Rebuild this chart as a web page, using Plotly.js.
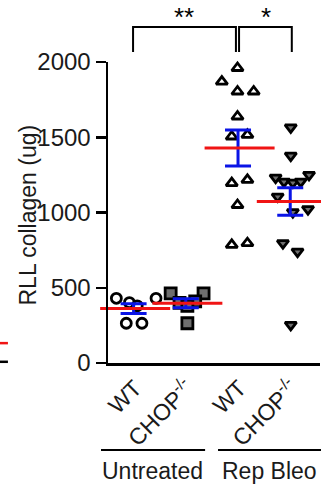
<!DOCTYPE html>
<html>
<head>
<meta charset="utf-8">
<script src="https://cdn.plot.ly/plotly-3.0.1.min.js"></script>
<style>html,body{margin:0;padding:0;background:#fff;}#chart{width:321px;height:493px;}</style>
</head>
<body>
<div id="chart"></div>
<script>
// ---- data ----
const categories = ['WT', 'CHOP<sup>-/-</sup>', 'WT', 'CHOP<sup>-/-</sup>'];
const groupLabels = ['Untreated', 'Rep Bleo'];
const yTitle = 'RLL collagen (ug)';
const wtUntreated   = [430, 401, 430, 264, 264, 380];
const chopUntreated = [463, 463, 264, 400, 410, 380];
const wtBleo        = [1960, 1870, 1804, 1804, 1638, 1505, 1516, 1195, 1217, 1050, 785, 796];
const chopBleo      = [1565, 1378, 1232, 1205, 1199, 1205, 1250, 1106, 1002, 1022, 796, 740, 253];
// horizontal scatter (jitter) of each point, in fractions of a category step
const wtUntreatedJit   = [-0.36, -0.11, 0.40, -0.17, 0.13, 0.04];
const chopUntreatedJit = [-0.32, 0.31, 0.0, -0.15, 0.15, 0.0];
const wtBleoJit        = [-0.04, -0.34, -0.04, 0.27, -0.04, -0.15, 0.15, -0.15, 0.15, -0.04, -0.15, 0.15];
const chopBleoJit      = [-0.02, -0.02, -0.31, -0.15, 0.02, 0.17, 0.33, -0.27, 0.02, 0.31, -0.17, 0.11, -0.02];
const sigLabels = ['**', '*'];

const groups = [wtUntreated, chopUntreated, wtBleo, chopBleo];
const jits = [wtUntreatedJit, chopUntreatedJit, wtBleoJit, chopBleoJit];
const markerSym = ['circle-open', 'square', 'triangle-up-open', 'triangle-down'];
const markerFill = ['#000', '#6e6e6e', '#000', '#6e6e6e'];

function mean(a){ return a.reduce((s,v)=>s+v,0)/a.length; }
function sem(a){ const m=mean(a); const v=a.reduce((s,x)=>s+(x-m)*(x-m),0)/(a.length-1); return Math.sqrt(v)/Math.sqrt(a.length); }

const traces = [];
groups.forEach((g, i) => {
  const open = markerSym[i].indexOf('open') >= 0;
  traces.push({
    type: 'scatter', mode: 'markers',
    x: g.map((v, k) => i + jits[i][k]), y: g,
    marker: {
      symbol: markerSym[i],
      size: i === 1 ? 11 : 10,
      color: open ? '#000' : markerFill[i],
      line: {color: '#000', width: 2.8}
    },
    showlegend: false, hoverinfo: 'skip', cliponaxis: false
  });
});
// SEM error bars (blue)
traces.push({
  type: 'scatter', mode: 'markers',
  x: [0, 1, 2, 3].map(i => i - 0.03), y: groups.map(mean),
  marker: {size: 1, color: 'rgba(0,0,0,0)'},
  error_y: {type: 'data', array: groups.map(sem), visible: true, color: '#0a14e6', thickness: 3, width: 13},
  showlegend: false, hoverinfo: 'skip'
});
// mean lines (red)
traces.push({
  type: 'scatter', mode: 'markers',
  x: [0, 1, 2, 3], y: groups.map(mean),
  marker: {symbol: 'line-ew', size: 50, line: {color: '#f01414', width: 3}},
  showlegend: false, hoverinfo: 'skip', cliponaxis: false
});

const font = {family: 'Arial, "Liberation Sans", sans-serif', color: '#1a1a1a'};
const shapes = [
  // significance brackets
  {type: 'path', xref: 'x', yref: 'paper', path: 'M -0.04,1.033 L -0.04,1.116 L 1.93,1.116 L 1.93,1.033', line: {color: '#000', width: 2}},
  {type: 'path', xref: 'x', yref: 'paper', path: 'M 1.99,1.033 L 1.99,1.116 L 3.0,1.116 L 3.0,1.033', line: {color: '#000', width: 2}},
  // group underlines
  {type: 'line', xref: 'paper', yref: 'paper', x0: -0.033, x1: 0.458, y0: -0.289, y1: -0.289, line: {color: '#000', width: 2}},
  {type: 'line', xref: 'paper', yref: 'paper', x0: 0.519, x1: 1.01, y0: -0.289, y1: -0.289, line: {color: '#000', width: 2}},
  // fragment of neighbouring panel at left edge
  {type: 'line', xref: 'paper', yref: 'paper', x0: -0.515, x1: -0.472, y0: 0.066, y1: 0.066, line: {color: '#f01414', width: 2.5}},
  {type: 'line', xref: 'paper', yref: 'paper', x0: -0.515, x1: -0.472, y0: 0.004, y1: 0.004, line: {color: '#000', width: 2.5}}
];
const annotations = [
  {xref: 'x', yref: 'paper', x: 0.93, y: 1.15, xanchor: 'center', yanchor: 'middle', text: sigLabels[0], showarrow: false, font: Object.assign({}, font, {size: 26, color: '#000'})},
  {xref: 'x', yref: 'paper', x: 2.5, y: 1.15, xanchor: 'center', yanchor: 'middle', text: sigLabels[1], showarrow: false, font: Object.assign({}, font, {size: 26, color: '#000'})},
  {xref: 'paper', yref: 'paper', x: 0.208, y: -0.36, xanchor: 'center', yanchor: 'middle', text: groupLabels[0], showarrow: false, font: Object.assign({}, font, {size: 23})},
  {xref: 'paper', yref: 'paper', x: 0.764, y: -0.36, xanchor: 'center', yanchor: 'middle', text: groupLabels[1], showarrow: false, font: Object.assign({}, font, {size: 23})},
  {xref: 'paper', yref: 'paper', x: -0.382, y: 0.49, xanchor: 'center', yanchor: 'middle', textangle: -90, text: yTitle, showarrow: false, font: Object.assign({}, font, {size: 23})}
];

const layout = {
  width: 321, height: 493,
  margin: {l: 108, r: 1, t: 62, b: 130},
  paper_bgcolor: '#fff', plot_bgcolor: '#fff',
  font: font,
  showlegend: false,
  xaxis: {
    range: [-0.52, 3.54], tickmode: 'array', tickvals: [0, 1, 2, 3], ticktext: categories,
    tickangle: -45, ticks: '', showgrid: false, zeroline: false,
    showline: true, linecolor: '#000', linewidth: 2.5, tickfont: {size: 23, color: '#1a1a1a'}
  },
  yaxis: {
    range: [0, 2000], tickvals: [0, 500, 1000, 1500, 2000], ticks: 'outside', ticklen: 10, tickwidth: 2.5,
    tickcolor: '#000', showgrid: false, zeroline: false, showline: true, linecolor: '#000', linewidth: 2.5,
    tickfont: {size: 24, color: '#1a1a1a'}
  },
  shapes: shapes,
  annotations: annotations
};
Plotly.newPlot('chart', traces, layout, {staticPlot: true, displayModeBar: false});
</script>
</body>
</html>
